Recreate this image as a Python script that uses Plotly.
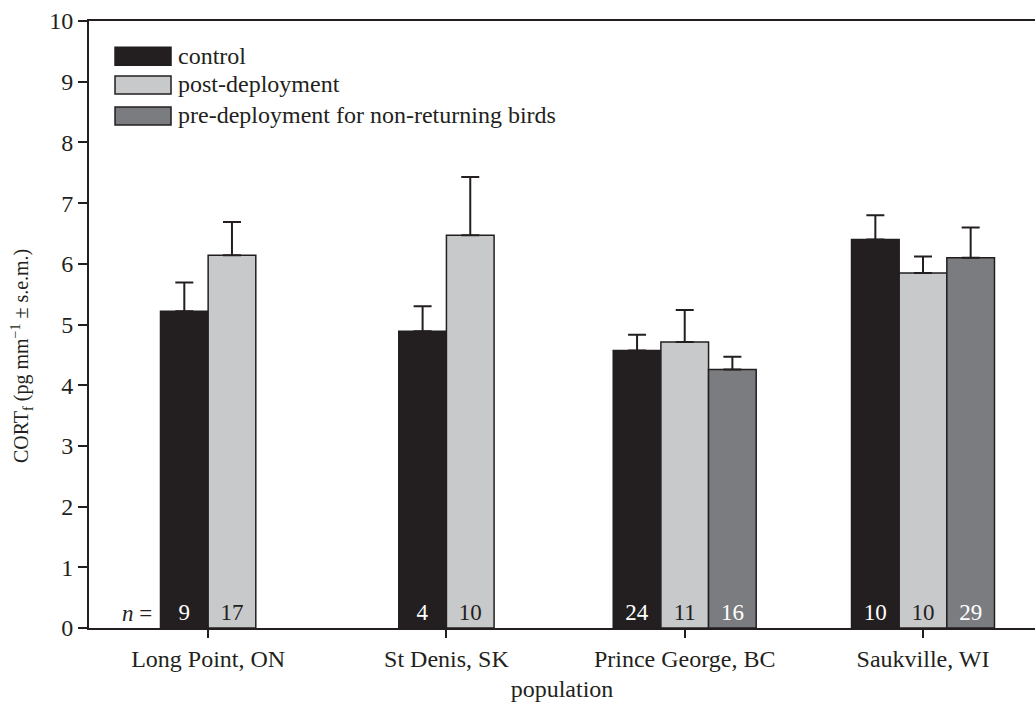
import plotly.graph_objects as go

# ---- data ----
populations = ["Long Point, ON", "St Denis, SK", "Prince George, BC", "Saukville, WI"]
series_names = ["control", "post-deployment", "pre-deployment for non-returning birds"]
control_mean = [5.22, 4.89, 4.57, 6.40]
control_sem = [0.47, 0.41, 0.26, 0.40]
control_n = [9, 4, 24, 10]
post_mean = [6.14, 6.47, 4.71, 5.85]
post_sem = [0.55, 0.96, 0.53, 0.27]
post_n = [17, 10, 11, 10]
pre_mean = [None, None, 4.26, 6.10]
pre_sem = [None, None, 0.21, 0.50]
pre_n = [None, None, 16, 29]
y_ticks = list(range(0, 11))
y_title = "CORT<sub>f</sub> (pg mm<sup>−1</sup> ± s.e.m.)"
x_title = "population"

# ---- style ----
INK = "#231f20"
colors = ["#231f20", "#c8c9cb", "#7b7c80"]
text_colors = ["white", INK, "white"]
FONT = "Liberation Serif, Times New Roman, serif"
W = 0.2  # bar width in category units

series = [
    (control_mean, control_sem, control_n),
    (post_mean, post_sem, post_n),
    (pre_mean, pre_sem, pre_n),
]

# number of bars in each group, used to centre the group on its tick
counts = [sum(1 for s in series if s[0][i] is not None) for i in range(len(populations))]

fig = go.Figure()
for k, (mean, sem, n) in enumerate(series):
    xs, ys, es, ns, offs = [], [], [], [], []
    for i, pop in enumerate(populations):
        if mean[i] is None:
            continue
        idx = sum(1 for j in range(k) if series[j][0][i] is not None)
        xs.append(pop)
        ys.append(mean[i])
        es.append(sem[i])
        ns.append(str(n[i]))
        offs.append(-counts[i] * W / 2 + idx * W)
    fig.add_trace(go.Bar(
        x=xs, y=ys, name=series_names[k],
        width=W, offset=offs,
        marker=dict(color=colors[k], line=dict(color=INK, width=1.5)),
        error_y=dict(type="data", array=es, arrayminus=[0] * len(es), symmetric=False,
                     color=INK, thickness=2, width=9),
        text=ns, textposition="inside", insidetextanchor="start",
        textangle=0, constraintext="none",
        textfont=dict(family=FONT, size=23, color=text_colors[k]),
        showlegend=False,
    ))

# "n =" label
fig.add_annotation(x=populations[0], y=0, xref="x", yref="y", text="<i>n</i> =",
                   showarrow=False, xanchor="right", yanchor="bottom",
                   xshift=-W * 238 - 7, yshift=0,
                   font=dict(family=FONT, size=23, color=INK))

# manual legend
leg_y = [0.942, 0.8946, 0.8435]
for k, name in enumerate(series_names):
    fig.add_shape(type="rect", xref="paper", yref="paper",
                  x0=0.0275, x1=0.0867, y0=leg_y[k] - 0.0148, y1=leg_y[k] + 0.0148,
                  fillcolor=colors[k], line=dict(color=INK, width=1.5))
    fig.add_annotation(xref="paper", yref="paper", x=0.092, y=leg_y[k] + 0.001,
                       text=name, showarrow=False, xanchor="left", yanchor="middle",
                       font=dict(family=FONT, size=24, color=INK))

# y-axis title
fig.add_annotation(xref="paper", yref="paper", x=-0.0708, y=0.448, text=y_title,
                   textangle=-90, showarrow=False, xanchor="center", yanchor="middle",
                   font=dict(family=FONT, size=20, color=INK))

fig.update_layout(
    width=1035, height=702,
    margin=dict(l=89, r=0, t=21, b=74),
    plot_bgcolor="white", paper_bgcolor="white",
    barmode="overlay",
    font=dict(family=FONT, size=24, color=INK),
    xaxis=dict(
        type="category", range=[-0.5, 3.47],
        showline=True, linecolor=INK, linewidth=2, mirror=True,
        ticks="outside", ticklen=8, tickwidth=1.5, tickcolor=INK,
        tickfont=dict(family=FONT, size=24, color=INK),
        title=dict(text=x_title, font=dict(family=FONT, size=24, color=INK), standoff=10),
        showgrid=False, zeroline=False,
    ),
    yaxis=dict(
        range=[0, 10], tickvals=y_ticks,
        showline=True, linecolor=INK, linewidth=2,
        ticks="outside", ticklen=9, tickwidth=1.5, tickcolor=INK,
        tickfont=dict(family=FONT, size=24, color=INK),
        showgrid=False, zeroline=False,
    ),
)

fig.write_html("out.html", config={"displayModeBar": False},
               post_script="document.body.style.margin='0';")
